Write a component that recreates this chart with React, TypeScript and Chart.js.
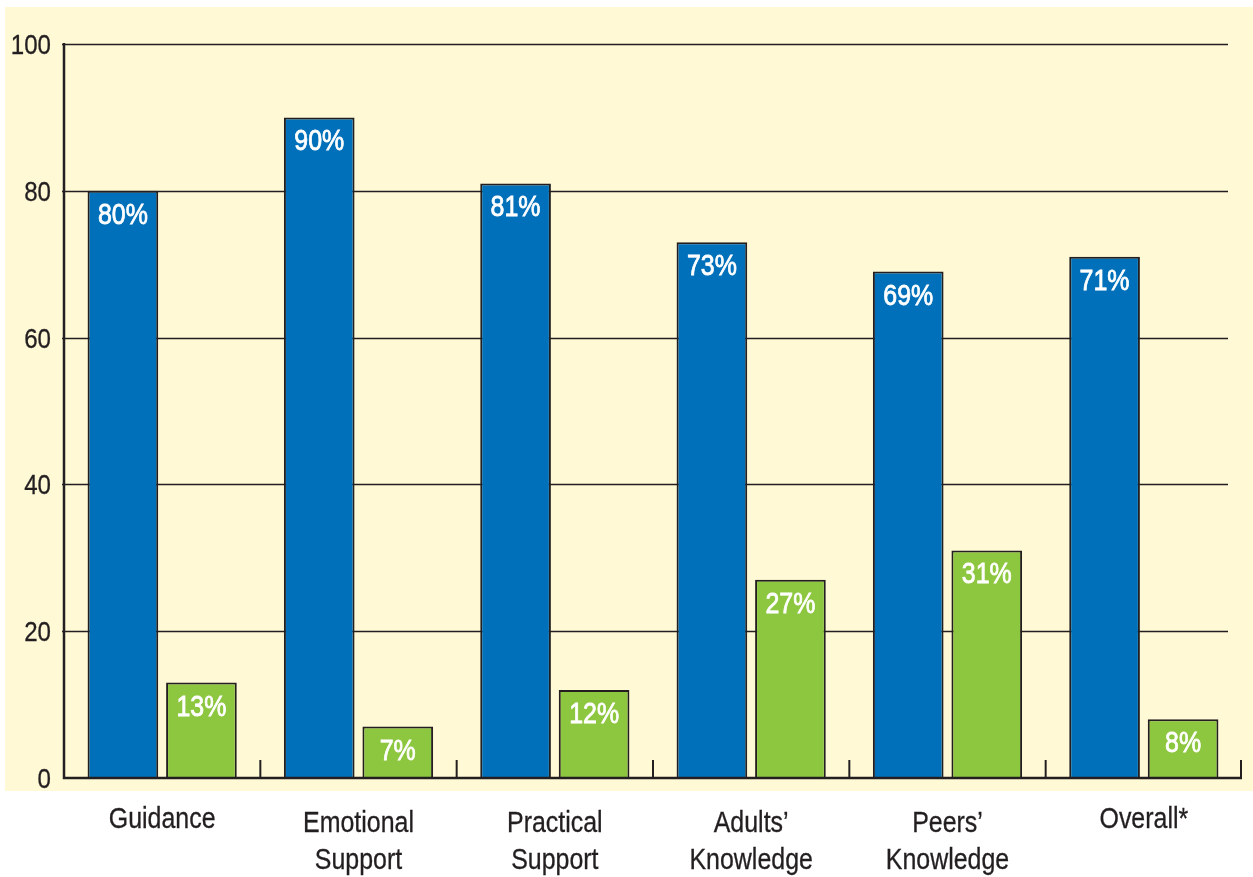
import React, { useEffect, useRef } from "react";
import { Chart, registerables } from "chart.js";

Chart.register(...registerables);

const categories: (string | string[])[] = [
  "Guidance",
  ["Emotional", "Support"],
  ["Practical", "Support"],
  ["Adults’", "Knowledge"],
  ["Peers’", "Knowledge"],
  "Overall*",
];
const blueValues = [80, 90, 81, 73, 69, 71];
const greenValues = [13, 7, 12, 27, 31, 8];
const yTicks = [0, 20, 40, 60, 80, 100];

const FONT = "'Liberation Sans', Arial, sans-serif";
const INK = "#231F20";
const SX = 0.86;

function narrowText(ctx: any, text: string, x: number, y: number, align: string, font: string, color: string, stroke = 0) {
  ctx.save();
  ctx.font = font;
  ctx.fillStyle = color;
  ctx.textAlign = align;
  ctx.textBaseline = "alphabetic";
  ctx.translate(x, y);
  ctx.scale(SX, 1);
  ctx.fillText(text, 0, 0);
  if (stroke > 0) {
    ctx.strokeStyle = color;
    ctx.lineWidth = stroke;
    ctx.strokeText(text, 0, 0);
  }
  ctx.restore();
}

const decorPlugin = {
  id: "decor",
  beforeDraw(chart: any) {
    const { ctx } = chart;
    ctx.save();
    ctx.fillStyle = "#FFFFFF";
    ctx.fillRect(0, 0, chart.width, chart.height);
    ctx.fillStyle = "#FFF9D6";
    ctx.fillRect(5, 7, chart.width - 5, 784);
    ctx.restore();
  },
  beforeDatasetsDraw(chart: any) {
    const { ctx, chartArea, scales } = chart;
    const y = scales.y;
    const x = scales.x;
    ctx.save();
    ctx.strokeStyle = INK;
    ctx.lineWidth = 1.3;
    for (const v of yTicks) {
      if (v === 0) continue;
      const py = Math.round(y.getPixelForValue(v)) + 0.5;
      ctx.beginPath();
      ctx.moveTo(chartArea.left - 2, py);
      ctx.lineTo(chartArea.right - 14, py);
      ctx.stroke();
    }
    ctx.restore();
    for (const v of yTicks) {
      const py = y.getPixelForValue(v);
      narrowText(ctx, String(v), 51, py + 10, "right", `28px ${FONT}`, INK, 0.3);
    }
    categories.forEach((lab, i) => {
      const px = x.getPixelForTick(i);
      if (Array.isArray(lab)) {
        lab.forEach((line, j) => {
          narrowText(ctx, line, px, 832 + j * 37, "center", `29px ${FONT}`, INK, 0.3);
        });
      } else {
        narrowText(ctx, lab, px, 828, "center", `29px ${FONT}`, INK, 0.3);
      }
    });
  },
  afterDatasetsDraw(chart: any) {
    const { ctx, chartArea, scales } = chart;
    const y = scales.y;
    ctx.save();
    ctx.strokeStyle = INK;
    ctx.lineWidth = 2.5;
    const base = y.getPixelForValue(0);
    ctx.beginPath();
    ctx.moveTo(chartArea.left, y.getPixelForValue(100) - 1);
    ctx.lineTo(chartArea.left, base);
    ctx.lineTo(chartArea.right, base);
    ctx.stroke();
    ctx.lineWidth = 2;
    const n = categories.length;
    const w = (chartArea.right - chartArea.left) / n;
    for (let i = 1; i <= n; i++) {
      const px = chartArea.left + w * i - (i === n ? 1 : 0);
      ctx.beginPath();
      ctx.moveTo(px, base);
      ctx.lineTo(px, base - 18);
      ctx.stroke();
    }
    ctx.restore();
    chart.data.datasets.forEach((ds: any, di: number) => {
      const meta = chart.getDatasetMeta(di);
      meta.data.forEach((bar: any, i: number) => {
        narrowText(ctx, `${ds.data[i]}%`, bar.x, bar.y + 33, "center", `29px ${FONT}`, "#FFFFFF", 0.8);
      });
    });
  },
};

export default function App() {
  const ref = useRef<HTMLCanvasElement | null>(null);
  useEffect(() => {
    if (!ref.current) return;
    const chart = new Chart(ref.current, {
      type: "bar",
      data: {
        labels: categories,
        datasets: [
          {
            data: blueValues,
            backgroundColor: "#0070BA",
            borderColor: INK,
            borderWidth: 2,
            categoryPercentage: 0.8,
            barPercentage: 0.9,
          },
          {
            data: greenValues,
            backgroundColor: "#8DC63F",
            borderColor: INK,
            borderWidth: 2,
            categoryPercentage: 0.8,
            barPercentage: 0.9,
          },
        ],
      },
      options: {
        animation: false,
        responsive: false,
        maintainAspectRatio: false,
        layout: { padding: { top: 44, right: 11, left: 0, bottom: 0 } },
        plugins: {
          legend: { display: false },
          tooltip: { enabled: false },
        },
        scales: {
          x: {
            grid: { display: false },
            border: { display: false },
            ticks: { display: false },
            afterFit(scale: any) {
              scale.height = 99;
            },
          },
          y: {
            min: 0,
            max: 100,
            grid: { display: false },
            border: { display: false },
            afterBuildTicks(scale: any) {
              scale.ticks = yTicks.map((v) => ({ value: v }));
            },
            ticks: { display: false },
            afterFit(scale: any) {
              scale.width = 64;
            },
          },
        },
      },
      plugins: [decorPlugin],
    });
    return () => chart.destroy();
  }, []);
  return (
    <div style={{ position: "fixed", left: 0, top: 0, width: 1253, height: 877 }}>
      <canvas ref={ref} width={1253} height={877} style={{ display: "block" }} />
    </div>
  );
}
